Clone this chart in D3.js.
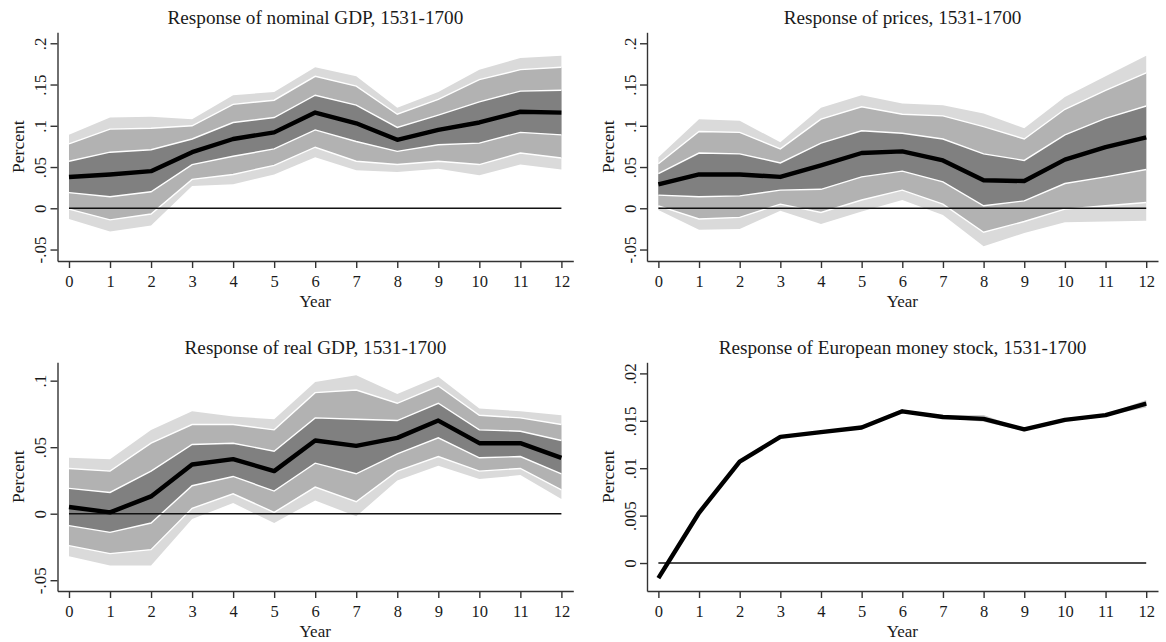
<!DOCTYPE html>
<html>
<head>
<meta charset="utf-8">
<script src="https://cdn.jsdelivr.net/npm/d3@7"></script>
<style>
	body { margin: 0; background: #fff; }
	svg { display: block; }
	text { font-family: "Liberation Serif", "DejaVu Serif", serif; fill: #1a1a1a; }
</style>
</head>
<body>
<figure id="irf" style="margin:0"></figure>
<script>
// horizon (years after the shock)
let years = [0, 1, 2, 3, 4, 5, 6, 7, 8, 9, 10, 11, 12];

// nominal GDP: median and the three bands (outer / mid / inner)
let nomOuterHi = [0.089, 0.110, 0.111, 0.108, 0.137, 0.141, 0.171, 0.160, 0.122, 0.141, 0.168, 0.182, 0.185];
let nomMidHi   = [0.078, 0.096, 0.097, 0.100, 0.126, 0.131, 0.160, 0.148, 0.114, 0.132, 0.156, 0.168, 0.171];
let nomInnerHi = [0.057, 0.068, 0.071, 0.084, 0.104, 0.110, 0.137, 0.125, 0.098, 0.113, 0.129, 0.142, 0.143];
let nomMed     = [0.038, 0.041, 0.045, 0.068, 0.084, 0.092, 0.116, 0.103, 0.083, 0.095, 0.104, 0.117, 0.116];
let nomInnerLo = [0.019, 0.014, 0.020, 0.053, 0.063, 0.072, 0.095, 0.081, 0.069, 0.077, 0.079, 0.092, 0.089];
let nomMidLo   = [-0.001, -0.014, -0.007, 0.035, 0.041, 0.052, 0.074, 0.057, 0.053, 0.057, 0.053, 0.067, 0.061];
let nomOuterLo = [-0.013, -0.028, -0.021, 0.027, 0.029, 0.041, 0.062, 0.046, 0.044, 0.048, 0.040, 0.053, 0.047];

// prices
let priOuterHi = [0.062, 0.108, 0.106, 0.080, 0.122, 0.137, 0.127, 0.125, 0.115, 0.097, 0.135, 0.160, 0.185];
let priMidHi   = [0.054, 0.093, 0.092, 0.072, 0.108, 0.123, 0.114, 0.112, 0.099, 0.084, 0.120, 0.143, 0.164];
let priInnerHi = [0.042, 0.067, 0.066, 0.055, 0.079, 0.094, 0.091, 0.084, 0.066, 0.058, 0.089, 0.109, 0.124];
let priMed     = [0.029, 0.041, 0.041, 0.038, 0.052, 0.067, 0.069, 0.058, 0.034, 0.033, 0.059, 0.074, 0.086];
let priInnerLo = [0.016, 0.014, 0.015, 0.022, 0.023, 0.038, 0.045, 0.032, 0.003, 0.009, 0.030, 0.038, 0.047];
let priMidLo   = [0.003, -0.013, -0.011, 0.005, -0.005, 0.010, 0.022, 0.005, -0.029, -0.016, -0.001, 0.003, 0.007];
let priOuterLo = [-0.002, -0.026, -0.025, -0.003, -0.019, -0.004, 0.010, -0.008, -0.046, -0.030, -0.017, -0.016, -0.015];

// real GDP
let realOuterHi = [0.042, 0.041, 0.063, 0.077, 0.073, 0.071, 0.099, 0.104, 0.090, 0.103, 0.079, 0.077, 0.074];
let realMidHi   = [0.034, 0.032, 0.053, 0.067, 0.067, 0.063, 0.091, 0.093, 0.083, 0.096, 0.074, 0.072, 0.067];
let realInnerHi = [0.019, 0.016, 0.032, 0.052, 0.053, 0.047, 0.072, 0.071, 0.070, 0.083, 0.063, 0.062, 0.055];
let realMed     = [0.005, 0.001, 0.013, 0.037, 0.041, 0.032, 0.055, 0.051, 0.057, 0.070, 0.053, 0.053, 0.042];
let realInnerLo = [-0.009, -0.014, -0.007, 0.021, 0.028, 0.017, 0.038, 0.030, 0.045, 0.057, 0.042, 0.043, 0.030];
let realMidLo   = [-0.024, -0.030, -0.027, 0.004, 0.015, 0.001, 0.020, 0.009, 0.032, 0.043, 0.032, 0.034, 0.018];
let realOuterLo = [-0.032, -0.039, -0.039, -0.004, 0.008, -0.007, 0.010, -0.002, 0.025, 0.036, 0.026, 0.029, 0.011];

// European money stock (bands are almost invisible)
let monOuterHi = [-0.0016, 0.0053, 0.0107, 0.0133, 0.0138, 0.0143, 0.0160, 0.0156, 0.0156, 0.0141, 0.0151, 0.0157, 0.0172];
let monMidHi   = [-0.0016, 0.0053, 0.0107, 0.0133, 0.0138, 0.0143, 0.0160, 0.0155, 0.0154, 0.0141, 0.0151, 0.0157, 0.0170];
let monInnerHi = [-0.0016, 0.0053, 0.0107, 0.0133, 0.0138, 0.0143, 0.0160, 0.0155, 0.0153, 0.0141, 0.0151, 0.0156, 0.0169];
let monMed     = [-0.0016, 0.0053, 0.0107, 0.0133, 0.0138, 0.0143, 0.0160, 0.0154, 0.0152, 0.0141, 0.0151, 0.0156, 0.0168];
let monInnerLo = [-0.0016, 0.0053, 0.0107, 0.0133, 0.0138, 0.0143, 0.0160, 0.0154, 0.0151, 0.0140, 0.0151, 0.0156, 0.0167];
let monMidLo   = [-0.0016, 0.0053, 0.0107, 0.0133, 0.0138, 0.0143, 0.0160, 0.0153, 0.0150, 0.0140, 0.0151, 0.0155, 0.0166];
let monOuterLo = [-0.0016, 0.0053, 0.0107, 0.0133, 0.0138, 0.0143, 0.0160, 0.0153, 0.0149, 0.0139, 0.0151, 0.0155, 0.0164];

// y tick labels
let ticksWide  = [-0.05, 0, 0.05, 0.1, 0.15, 0.2];
let ticksReal  = [-0.05, 0, 0.05, 0.1];
let ticksMoney = [0, 0.005, 0.01, 0.015, 0.02];

let dimensions = { width: 1166, height: 642 };

let cols = [ { x0: 57.5, x1: 573.3 }, { x0: 647, x1: 1158 } ];
let rows = [ { top: 32.3, bottom: 261 }, { top: 362.3, bottom: 591 } ];

let panels = [
	{ title: "Response of nominal GDP, 1531-1700", col: 0, row: 0, ticks: ticksWide, yDomain: [-0.0639, 0.2133],
	  outerHi: nomOuterHi, midHi: nomMidHi, innerHi: nomInnerHi, med: nomMed, innerLo: nomInnerLo, midLo: nomMidLo, outerLo: nomOuterLo },
	{ title: "Response of prices, 1531-1700", col: 1, row: 0, ticks: ticksWide, yDomain: [-0.0639, 0.2133],
	  outerHi: priOuterHi, midHi: priMidHi, innerHi: priInnerHi, med: priMed, innerLo: priInnerLo, midLo: priMidLo, outerLo: priOuterLo },
	{ title: "Response of real GDP, 1531-1700", col: 0, row: 1, ticks: ticksReal, yDomain: [-0.0581, 0.1138],
	  outerHi: realOuterHi, midHi: realMidHi, innerHi: realInnerHi, med: realMed, innerLo: realInnerLo, midLo: realMidLo, outerLo: realOuterLo },
	{ title: "Response of European money stock, 1531-1700", col: 1, row: 1, ticks: ticksMoney, yDomain: [-0.00295, 0.02117],
	  outerHi: monOuterHi, midHi: monMidHi, innerHi: monInnerHi, med: monMed, innerLo: monInnerLo, midLo: monMidLo, outerLo: monOuterLo, thin: true }
];

let svg = d3.select("figure#irf")
	.append("svg")
	.attr("width", dimensions.width)
	.attr("height", dimensions.height)
	.attr("viewBox", `0 0 ${dimensions.width} ${dimensions.height}`);

svg.append("rect").attr("width", dimensions.width).attr("height", dimensions.height).attr("fill", "#fff");

// stata style labels: .05, -.05, 0
let fmt = d => String(d).replace("0.", ".");

panels.forEach(p => {
	let c = cols[p.col], r = rows[p.row];
	let g = svg.append("g");

	let xScale = d3.scaleLinear().domain([-0.28, 12.29]).range([c.x0, c.x1]);
	let yScale = d3.scaleLinear().domain(p.yDomain).range([r.bottom, r.top]);

	let area = (lo, hi) => d3.area()
		.x((d, i) => xScale(years[i]))
		.y0((d, i) => yScale(lo[i]))
		.y1((d, i) => yScale(hi[i]));
	let line = arr => d3.line()
		.x((d, i) => xScale(years[i]))
		.y((d, i) => yScale(arr[i]));

	// bands, lightest first
	g.append("path").attr("d", area(p.outerLo, p.outerHi)(years)).attr("fill", p.thin ? "#cfcfcf" : "#dadada");
	g.append("path").attr("d", area(p.midLo, p.midHi)(years)).attr("fill", p.thin ? "#aaaaaa" : "#b2b2b2");
	g.append("path").attr("d", area(p.innerLo, p.innerHi)(years)).attr("fill", "#808080");

	// white lines between the bands
	if (!p.thin) {
		[p.midHi, p.innerHi, p.innerLo, p.midLo].forEach(arr => {
			g.append("path").attr("d", line(arr)(years))
				.attr("fill", "none").attr("stroke", "#fff").attr("stroke-width", 1.4);
		});
	}

	// zero line
	g.append("line")
		.attr("x1", xScale(0)).attr("x2", xScale(12))
		.attr("y1", yScale(0)).attr("y2", yScale(0))
		.attr("stroke", "#111").attr("stroke-width", 1.4);

	// median response
	g.append("path").attr("d", line(p.med)(years))
		.attr("fill", "none").attr("stroke", "#000").attr("stroke-width", 4.4)
		.attr("stroke-linejoin", "round");

	// axes
	let xAxis = g.append("g")
		.attr("transform", `translate(0,${r.bottom})`)
		.call(d3.axisBottom(xScale).tickValues(years).tickSize(7).tickSizeOuter(0));
	xAxis.selectAll("text").attr("y", 26).attr("dy", 0).attr("font-size", 16.5);

	let yAxis = g.append("g")
		.attr("transform", `translate(${c.x0},0)`)
		.call(d3.axisLeft(yScale).tickValues(p.ticks).tickFormat(fmt).tickSize(7).tickSizeOuter(0));
	yAxis.selectAll("text")
		.attr("transform", "rotate(-90)")
		.attr("x", 0).attr("y", -11.5).attr("dy", 0)
		.attr("text-anchor", "middle").attr("font-size", 17);

	[xAxis, yAxis].forEach(a => {
		a.select(".domain").attr("stroke", "#333").attr("stroke-width", 1.4);
		a.selectAll(".tick line").attr("stroke", "#333").attr("stroke-width", 1.4);
		a.selectAll("text").attr("fill", "#1a1a1a").attr("font-family", "Liberation Serif, serif");
	});

	// labels
	g.append("text")
		.attr("x", (c.x0 + c.x1) / 2).attr("y", r.top - 8.3)
		.attr("text-anchor", "middle").attr("font-size", 19.2)
		.text(p.title);
	g.append("text")
		.attr("x", xScale(6)).attr("y", r.bottom + 45.5)
		.attr("text-anchor", "middle").attr("font-size", 17)
		.text("Year");
	g.append("text")
		.attr("transform", `translate(${c.x0 - 33.5},${(r.top + r.bottom) / 2}) rotate(-90)`)
		.attr("text-anchor", "middle").attr("font-size", 17.5)
		.text("Percent");
});
</script>
</body>
</html>
